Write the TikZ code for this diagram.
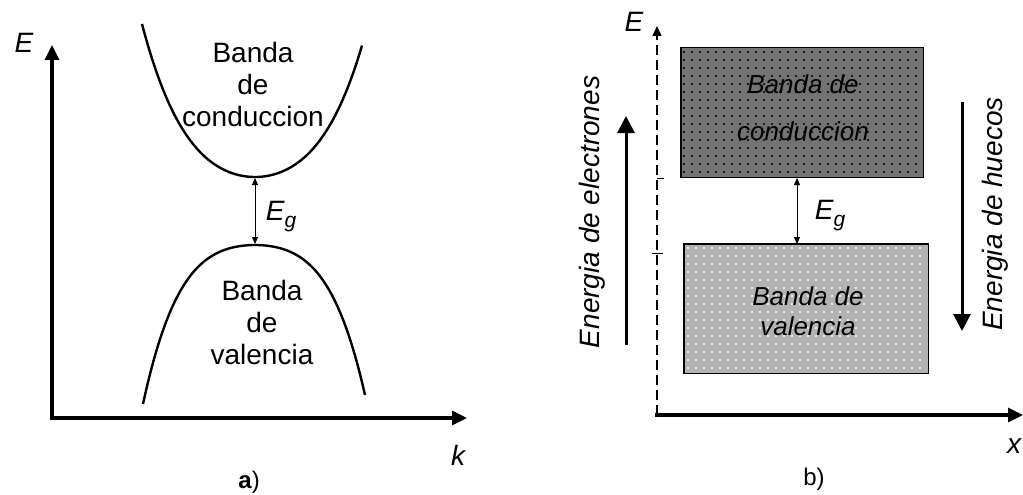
\documentclass[tikz,border=0pt]{standalone}
\usepackage{fontspec}
\setmainfont{Liberation Sans}
\usetikzlibrary{arrows.meta}
\begin{document}
\begin{tikzpicture}[x=1pt,y=-1pt,
  axis/.style={line width=3.2pt,-{Triangle[length=15pt,width=14pt]}},
  bigarrow/.style={line width=3pt,-{Triangle[length=17pt,width=17pt]}},
  curve/.style={line width=2.4pt},
  gaparrow/.style={line width=1pt,{Triangle[length=7pt,width=6pt]}-{Triangle[length=7pt,width=6pt]}},
  lbl/.style={font=\fontsize{28}{32}\selectfont, align=center, inner sep=0pt},
  caption/.style={font=\fontsize{24}{28}\selectfont, inner sep=0pt},
  ilbl/.style={font=\fontsize{28}{32}\selectfont\itshape, inner sep=0pt},
  boxtxt/.style={font=\fontsize{26}{30}\selectfont\itshape, align=center, inner sep=0pt},
  band/.style={draw, line width=1pt, inner sep=0pt}]
\useasboundingbox (0,0) rectangle (1023,495);
% ---------- panel a ----------
\coordinate (aO) at (52,418);
\coordinate (aE) at (52,45);
\coordinate (aK) at (467,418);
\draw[axis] (aO) -- (aE);
\draw[axis] ([xshift=-1.6pt]aO) -- (aK);
\draw[curve] plot[domain=-113:107,samples=100,smooth]
  ({255+\x},{177-71.2*(\x/100)*(\x/100)-38.1*(\x/100)*(\x/100)*(\x/100)*(\x/100)});
\draw[curve] plot[domain=-112:110,samples=100,smooth]
  ({255+\x},{245+47*(\x/100)*(\x/100)+63.6*(\x/100)*(\x/100)*(\x/100)*(\x/100)});
\coordinate (cmin) at (255,178);
\coordinate (vmax) at (255,244);
\draw[gaparrow] (cmin) -- (vmax);
\node[ilbl] (egA) at (281,217) {E\raisebox{-7pt}{\fontsize{21}{21}\selectfont g}};
\node[ilbl] (lEa) at (24,43) {E};
\node[ilbl] (lk) at (458,455) {k};
\node[caption] (la) at (249,482) {\textbf{a})};
\node[lbl] (cbA) at (253,84) {Banda\\de\\conduccion};
\node[lbl] (vbA) at (262,322) {Banda\\de\\valencia};
% ---------- panel b ----------
\coordinate (bO) at (657,415);
\coordinate (bE) at (657,26);
\coordinate (bX) at (1023,415);
\draw[line width=1.4pt, dash pattern=on 10pt off 5pt, -{Triangle[length=10pt,width=9pt]}] (bO) -- (bE);
\draw[line width=3.2pt,-{Triangle[length=15pt,width=14pt]}] ([xshift=-2pt]bO) -- (bX);
\draw[line width=1pt] (657,178) -- (664,178);
\draw[line width=1pt] (652,253) -- (663,253);
\node[band, fill=black!55, minimum width=242pt, minimum height=129pt] (cb) at (802,112.5) {};
\foreach \i in {0,...,29} \foreach \j in {0,...,15}
  \fill (684+8*\i,52+8*\j) circle (1.1pt);
\node[band, fill=black!30, minimum width=244pt, minimum height=129pt] (vb) at (806,308.5) {};
\foreach \i in {0,...,29} \foreach \j in {0,...,15}
  \fill[white] (688+8*\i,248+8*\j) circle (1.1pt);
\draw[band] (cb.north west) rectangle (cb.south east);
\draw[band] (vb.north west) rectangle (vb.south east);
\node[boxtxt] (cbt) at (803,108) {Banda de\\[17pt]conduccion};
\node[boxtxt] (vbt) at (808,311) {Banda de\\valencia};
\coordinate (gtop) at (797,178);
\coordinate (gbot) at (797,244);
\draw[gaparrow] (gtop) -- (gbot);
\node[ilbl] (egB) at (830,216) {E\raisebox{-7pt}{\fontsize{21}{21}\selectfont g}};
\node[ilbl] (lEb) at (634,22) {E};
\node[ilbl] (lx) at (1014,446) {x};
\node[caption] (lb) at (814,479) {b)};
\coordinate (eup0) at (626,345);
\coordinate (eup1) at (626,116);
\draw[bigarrow] (eup0) -- (eup1);
\coordinate (hdn0) at (962,102);
\coordinate (hdn1) at (962,331);
\draw[bigarrow] (hdn0) -- (hdn1);
\node[ilbl, rotate=90] (ee) at (592,212) {Energia de electrones};
\node[ilbl, rotate=90] (eh) at (995,214) {Energia de huecos};
\end{tikzpicture}
\end{document}
